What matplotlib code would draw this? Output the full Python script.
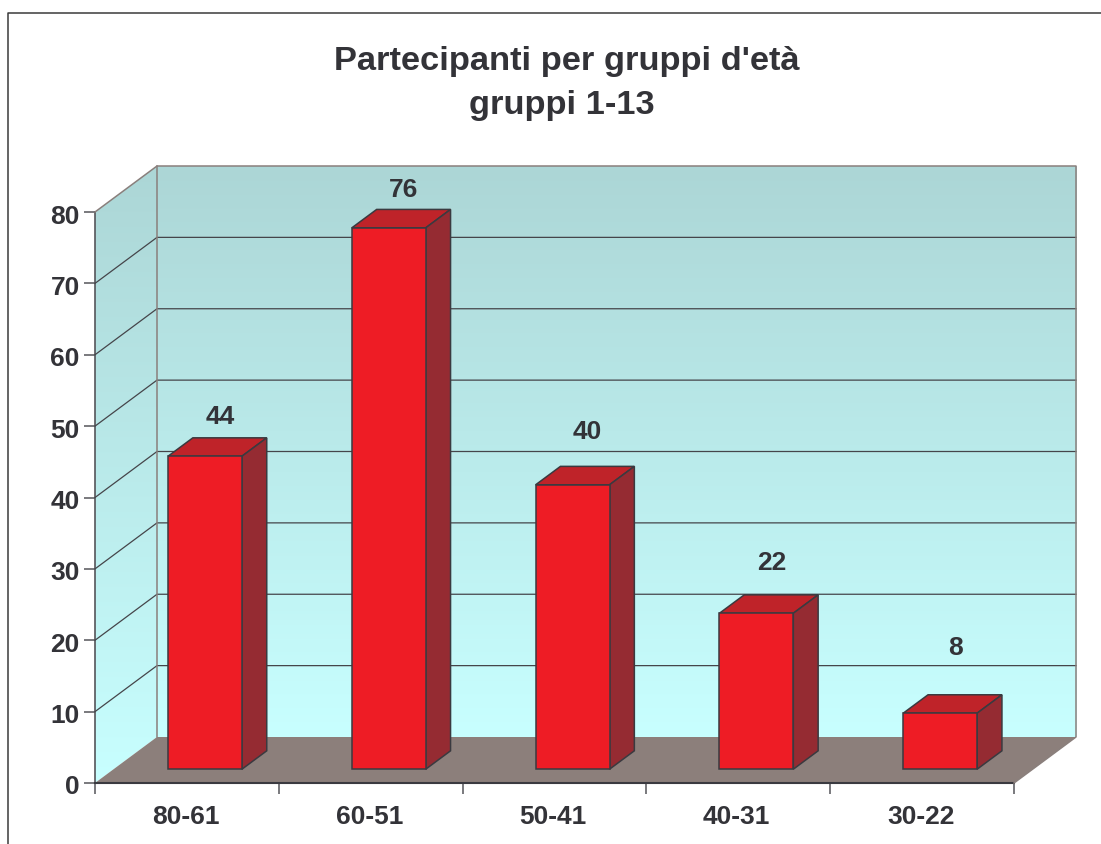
"""Partecipanti per gruppi d'eta: fake-3D column chart built on a 2D axes."""
import matplotlib
matplotlib.use("Agg")
import matplotlib.pyplot as plt
from matplotlib.patches import Polygon
from matplotlib.transforms import ScaledTranslation
import numpy as np

categories = ["80-61", "60-51", "50-41", "40-31", "30-22"]
values = [44, 76, 40, 22, 8]
y_ticks = [0, 10, 20, 30, 40, 50, 60, 70, 80]

# how far each value label sits above its column, in pixels
label_lift = [20.5, 19.5, 34.5, 31.5, 46.5]

W, H = 1101, 844
TEXT = "#333338"
EDGE = "#3a3a40"
WALL_EDGE = "#8a7f7c"

plt.rcParams["font.family"] = ["Liberation Sans", "DejaVu Sans"]

fig = plt.figure(figsize=(W / 100, H / 100), dpi=100)
fig.patch.set_facecolor("white")

# front plane of the box: x 95..1014, y 783..212 in image pixels
ax = fig.add_axes([95 / W, (H - 783) / H, 919 / W, 571 / H])
n = len(categories)
ax.patch.set_visible(False)
for s in ["top", "right"]:
    ax.spines[s].set_visible(False)
ax.spines["left"].set_color("#55555a")
ax.spines["left"].set_linewidth(1.2)
ax.spines["bottom"].set_color(EDGE)
ax.spines["bottom"].set_linewidth(1.5)

# depth of the box in data units
px_x = n / 919
px_y = 80 / 571
DX = 62 * px_x
DY = 46 * px_y
top = 80

# gradient walls
grad = np.linspace(0, 1, 256).reshape(-1, 1, 1)
c_top = np.array([172, 214, 214]) / 255
c_bot = np.array([200, 255, 255]) / 255
img = c_top * (1 - grad) + c_bot * grad

ax.imshow(img, extent=[DX, n + DX, DY, top + DY], aspect="auto", zorder=1, clip_on=False)
left = ax.imshow(img, extent=[0, DX, 0, top + DY], aspect="auto", zorder=1)
left_poly = Polygon([(0, 0), (DX, DY), (DX, top + DY), (0, top)], closed=True,
                    facecolor="none", edgecolor="none", clip_on=False)
ax.add_patch(left_poly)
left.set_clip_path(left_poly)
left.set_clip_box(fig.bbox)
ax.set_xlim(0, n)
ax.set_ylim(0, 80)

# floor
ax.add_patch(Polygon([(0, 0), (DX, DY), (n + DX, DY), (n, 0)],
                     closed=True, facecolor="#8c7f7b", edgecolor="none", zorder=2,
                     clip_on=False))

# gridlines on both walls
for v in y_ticks[1:-1]:
    ax.plot([0, DX, n + DX], [v, v + DY, v + DY], color="#45454a", lw=0.9,
            zorder=3, clip_on=False)
ax.plot([0, DX, n + DX, n + DX, n],
        [top, top + DY, top + DY, DY, 0], color=WALL_EDGE, lw=1.1, zorder=3, clip_on=False)
ax.plot([DX, DX], [DY, top + DY], color=WALL_EDGE, lw=1.1, zorder=3, clip_on=False)

# columns, set back into the box
BAR_W = 0.402
D0, D1 = 0.3, 0.7
for i, (val, lift) in enumerate(zip(values, label_lift)):
    x0 = i + 0.5 - BAR_W / 2 + D0 * DX - 0.5 * px_x
    x1 = x0 + BAR_W
    y0 = D0 * DY
    y1 = val + y0 - 0.15
    ox = (D1 - D0) * DX
    oy = (D1 - D0) * DY
    ax.add_patch(Polygon([(x0, y1), (x1, y1), (x1 + ox, y1 + oy), (x0 + ox, y1 + oy)],
                         closed=True, facecolor="#bf2329", edgecolor=EDGE, lw=1.1, zorder=4,
                         clip_on=False))
    ax.add_patch(Polygon([(x1, y0), (x1 + ox, y0 + oy), (x1 + ox, y1 + oy), (x1, y1)],
                         closed=True, facecolor="#952b32", edgecolor=EDGE, lw=1.1, zorder=4,
                         clip_on=False))
    ax.add_patch(Polygon([(x0, y0), (x1, y0), (x1, y1), (x0, y1)],
                         closed=True, facecolor="#ee1c25", edgecolor=EDGE, lw=1.1, zorder=5,
                         clip_on=False))
    ax.text(x1 + 0.5 * ox - 0.5 * BAR_W + 2.5 * px_x, y1 + oy + lift * px_y, str(val),
            ha="center", va="center", fontsize=19, fontweight="bold", color=TEXT, zorder=6,
            clip_on=False)

# axes ticks and labels
ax.set_yticks(y_ticks)
ax.set_xticks(range(n + 1))
ax.set_xticklabels([])
ax.set_xticks(np.arange(n) + 0.5, labels=categories, minor=True)
ax.tick_params(axis="y", length=8, width=1.1, color="#55555a", labelsize=19, labelcolor=TEXT, pad=3)
ax.tick_params(axis="x", which="major", length=8, width=1.1, color="#55555a")
ax.tick_params(axis="x", which="minor", length=0, labelsize=19, labelcolor=TEXT, pad=16)
nudge_y = ScaledTranslation(0, -2 / 100, fig.dpi_scale_trans)
nudge_x = ScaledTranslation(-1.5 / 100, 0, fig.dpi_scale_trans)
for lab in ax.get_yticklabels():
    lab.set_fontweight("bold")
    lab.set_transform(lab.get_transform() + nudge_y)
for lab in ax.get_xticklabels(minor=True):
    lab.set_fontweight("bold")
    lab.set_transform(lab.get_transform() + nudge_x)

# title and outer frame
fig.text(567 / W, 1 - 61.5 / H, "Partecipanti per gruppi d'età", ha="center", va="center",
         fontsize=24.8, fontweight="bold", color=TEXT)
fig.text(562 / W, 1 - 105.5 / H, "gruppi 1-13", ha="center", va="center",
         fontsize=24.8, fontweight="bold", color=TEXT)
fig.add_artist(plt.Line2D([7.5 / W, 7.5 / W, 1], [0, 1 - 12.5 / H, 1 - 12.5 / H],
                          color="#3a3a3a", lw=1.1))

fig.savefig("out.png", dpi=100, facecolor="white")
